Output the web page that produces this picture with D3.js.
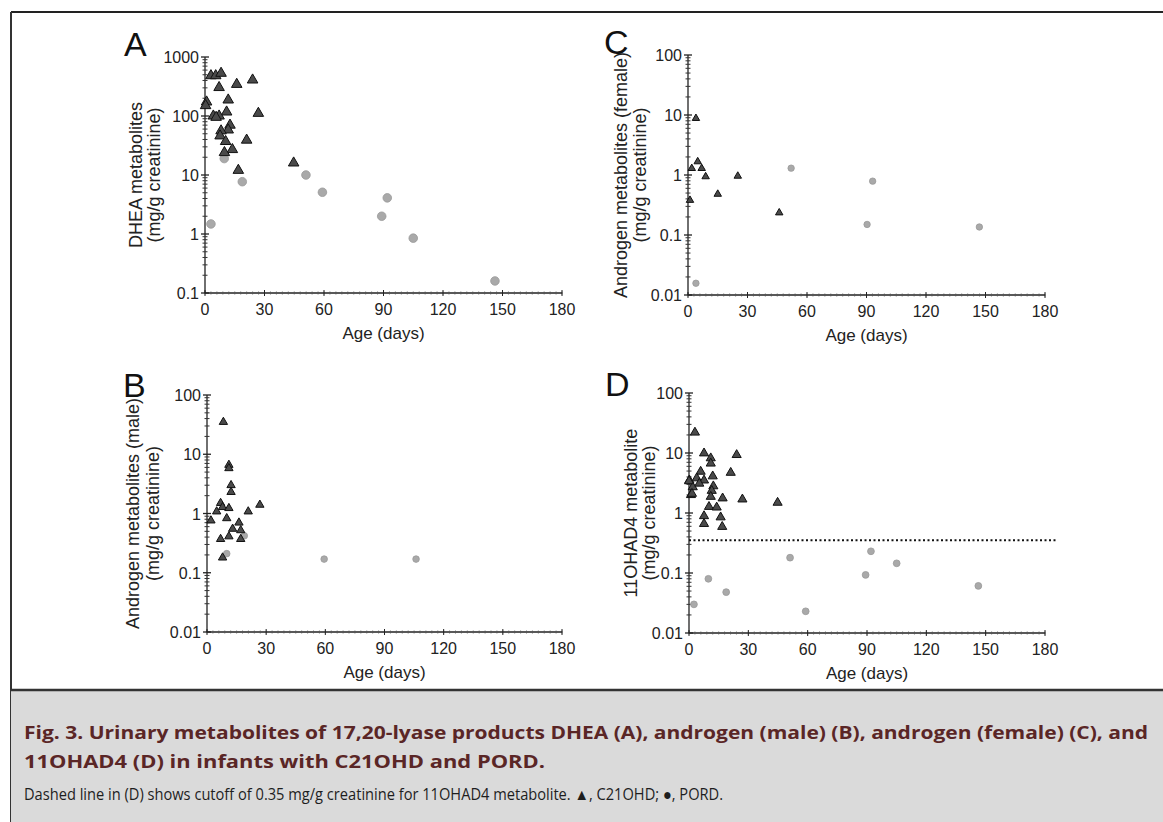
<!DOCTYPE html>
<html>
<head>
<meta charset="utf-8">
<script src="https://cdn.jsdelivr.net/npm/d3@7"></script>
<style>
  body { margin: 0; background: #fff; }
  svg { display: block; }
</style>
</head>
<body>
<div id="fig"></div>
<script>
// values: [age in days, mg/g creatinine]
const dheaC21 = [[3,482],[5.4,482],[8.1,530],[16,344],[24,408],[7.1,304],[11.7,187],[0.8,173],[0.3,150],
  [26.9,111],[10.9,117],[4.2,100],[7.1,100],[5.6,95],[12.6,70],[11.7,58],[8.1,56],[7.6,46],[10.4,37],
  [21,39],[13.8,27],[9.8,24],[16.8,12],[44.7,16]];
const dheaPord = [[9.7,19],[18.8,7.7],[50.9,10],[59.2,5.1],[89.1,2.0],[91.9,4.1],[105,0.85],[146.2,0.16],[3,1.48]];

const maleC21 = [[8.3,35],[11.1,6.6],[11.1,5.8],[12.2,3.0],[12.2,2.3],[6.9,1.5],[7.9,1.28],[11.1,1.23],
  [4.9,1.08],[20.9,1.08],[26.8,1.4],[2,0.76],[10,0.83],[16.2,0.7],[13,0.55],[17.1,0.52],[11.1,0.41],
  [6.9,0.37],[17.1,0.37],[7.9,0.18]];
const malePord = [[18.9,0.42],[10,0.21],[59.4,0.17],[106,0.17]];

const femaleC21 = [[4,8.8],[1.9,1.29],[4.9,1.67],[6.9,1.29],[8.9,0.94],[15,0.48],[25.1,0.96],[46,0.235],[1,0.38]];
const femalePord = [[52,1.3],[93.1,0.79],[90.3,0.15],[146.9,0.136],[4,0.0157]];

const ohadC21 = [[3,22],[7.6,9.9],[11,8.2],[11,6.7],[24.1,9.3],[21.1,4.7],[5.9,4.9],[0.2,3.5],[3.9,3.8],
  [7.6,3.5],[12,4.1],[1.9,2.7],[5.2,3.1],[12.3,2.8],[11.5,2.35],[1,2.0],[11,1.87],[17,1.76],[27,1.69],
  [44.8,1.49],[10.1,1.27],[14,1.24],[7.6,0.89],[16,0.85],[7.6,0.66],[16.8,0.59],[0,3.4],[1.5,2.1]];
const ohadPord = [[51.1,0.18],[92,0.23],[105,0.145],[89.3,0.093],[146.3,0.061],[9.8,0.08],[18.8,0.048],
  [2.5,0.03],[59,0.023]];

const cutoff = 0.35;
const ageTicks = [0, 30, 60, 90, 120, 150, 180];
const captionLines = [
  "Fig. 3. Urinary metabolites of 17,20-lyase products DHEA (A), androgen (male) (B), androgen (female) (C), and",
  "11OHAD4 (D) in infants with C21OHD and PORD.",
  "Dashed line in (D) shows cutoff of 0.35 mg/g creatinine for 11OHAD4 metabolite. \u25B2, C21OHD; \u25CF, PORD."
];

const width = 1163, height = 822;
const svg = d3.select("#fig").append("svg")
  .attr("width", width)
  .attr("height", height);

svg.append("rect").attr("width", width).attr("height", height).attr("fill", "#fff");

// frame
svg.append("line").attr("x1", 11).attr("x2", width).attr("y1", 12).attr("y2", 12)
  .attr("stroke", "#222").attr("stroke-width", 2);
svg.append("line").attr("x1", 11).attr("x2", 11).attr("y1", 12).attr("y2", height)
  .attr("stroke", "#333").attr("stroke-width", 2);

const font = "Liberation Sans, Arial, sans-serif";

const panels = [
  {letter: "A", c21: dheaC21, pord: dheaPord, x0: 205, x1: 562, yTop: 57, yBot: 293, ymin: 0.1, ymax: 1000,
   title: ["DHEA metabolites", "(mg/g creatinine)"], tx: [136, 154], letterPos: [124, 56], tri: 48, r: 4.3},
  {letter: "B", c21: maleC21, pord: malePord, x0: 207, x1: 562, yTop: 395, yBot: 632, ymin: 0.01, ymax: 100,
   title: ["Androgen metabolites (male)", "(mg/g creatinine)"], tx: [133, 153], letterPos: [123, 397], tri: 30, r: 3.3},
  {letter: "C", c21: femaleC21, pord: femalePord, x0: 688, x1: 1045, yTop: 55, yBot: 295, ymin: 0.01, ymax: 100,
   title: ["Androgen metabolites (female)", "(mg/g creatinine)"], tx: [621, 640], letterPos: [604, 54], tri: 24, r: 3.2},
  {letter: "D", c21: ohadC21, pord: ohadPord, x0: 689, x1: 1045, yTop: 393, yBot: 633, ymin: 0.01, ymax: 100,
   title: ["11OHAD4 metabolite", "(mg/g creatinine)"], tx: [631, 649], letterPos: [605, 396], tri: 36, r: 3.4,
   cutoff: cutoff}
];

panels.forEach(p => {
  const g = svg.append("g");
  const x = d3.scaleLinear().domain([0, 180]).range([p.x0, p.x1]);
  const y = d3.scaleLog().domain([p.ymin, p.ymax]).range([p.yBot, p.yTop]);

  // x axis: line, minor ticks, labels
  g.append("line").attr("x1", x(0)).attr("x2", x(180)).attr("y1", p.yBot).attr("y2", p.yBot)
    .attr("stroke", "#222").attr("stroke-width", 1.3);
  g.selectAll(".xminor").data(d3.range(0, 181, 3)).join("line")
    .attr("x1", d => x(d)).attr("x2", d => x(d))
    .attr("y1", p.yBot - 1.5).attr("y2", p.yBot + 1.5)
    .attr("stroke", "#555").attr("stroke-width", 0.8);
  g.selectAll(".xmajor").data(ageTicks).join("line")
    .attr("x1", d => x(d)).attr("x2", d => x(d))
    .attr("y1", p.yBot - 3).attr("y2", p.yBot + 3)
    .attr("stroke", "#222").attr("stroke-width", 1);
  g.selectAll(".xlab").data(ageTicks).join("text")
    .attr("x", d => x(d)).attr("y", p.yBot + 22)
    .attr("text-anchor", "middle")
    .style("font-family", font)
    .style("font-size", "16px").attr("fill", "#222")
    .text(d => d);
  g.append("text")
    .attr("x", (p.x0 + p.x1) / 2).attr("y", p.yBot + 46)
    .attr("text-anchor", "middle")
    .style("font-family", font)
    .style("font-size", "17px").attr("fill", "#222")
    .text("Age (days)");

  // y axis with log minor ticks
  g.append("line").attr("x1", p.x0).attr("x2", p.x0).attr("y1", p.yTop).attr("y2", p.yBot)
    .attr("stroke", "#222").attr("stroke-width", 1.3);
  const decades = y.ticks().filter(v => Math.abs(Math.log10(v) - Math.round(Math.log10(v))) < 1e-9);
  const minors = y.ticks().filter(v => decades.indexOf(v) < 0);
  g.selectAll(".yminor").data(minors).join("line")
    .attr("x1", p.x0 - 2.5).attr("x2", p.x0 + 2.5)
    .attr("y1", d => y(d)).attr("y2", d => y(d))
    .attr("stroke", "#333").attr("stroke-width", 1);
  g.selectAll(".ymajor").data(decades).join("line")
    .attr("x1", p.x0 - 4).attr("x2", p.x0 + 4)
    .attr("y1", d => y(d)).attr("y2", d => y(d))
    .attr("stroke", "#222").attr("stroke-width", 1.3);
  g.selectAll(".ylab").data(decades).join("text")
    .attr("x", p.x0 - 6).attr("y", d => y(d) + 6)
    .attr("text-anchor", "end")
    .style("font-family", font)
    .style("font-size", "16px").attr("fill", "#222")
    .text(d => d >= 1 ? d3.format("d")(d) : String(+d.toPrecision(1)));

  // y title, two lines, rotated
  const cy = (p.yTop + p.yBot) / 2;
  p.title.forEach((t, i) => {
    g.append("text")
      .attr("transform", `translate(${p.tx[i]},${cy}) rotate(-90)`)
      .attr("text-anchor", "middle")
      .attr("dy", "0.35em")
      .style("font-family", font)
      .style("font-size", "18px").attr("fill", "#222")
      .text(t);
  });

  // panel letter
  g.append("text")
    .attr("x", p.letterPos[0]).attr("y", p.letterPos[1])
    .style("font-family", font)
    .style("font-size", "34px").attr("fill", "#111")
    .text(p.letter);

  // cutoff line
  if (p.cutoff) {
    g.append("line")
      .attr("x1", p.x0).attr("x2", 1056)
      .attr("y1", y(p.cutoff)).attr("y2", y(p.cutoff))
      .attr("stroke", "#111").attr("stroke-width", 2)
      .attr("stroke-dasharray", "2,2.5");
  }

  // PORD circles
  g.selectAll(".pord").data(p.pord).join("circle")
    .attr("cx", d => x(d[0])).attr("cy", d => y(d[1]))
    .attr("r", p.r)
    .attr("fill", "#a9a9a9").attr("stroke", "#999").attr("stroke-width", 0.8);

  // C21OHD triangles
  g.selectAll(".c21").data(p.c21).join("path")
    .attr("transform", d => `translate(${x(d[0])},${y(d[1])})`)
    .attr("d", d3.symbol(d3.symbolTriangle, p.tri))
    .attr("fill", "#4a4a4a").attr("stroke", "#111").attr("stroke-width", 1);
});

// caption block
svg.append("rect").attr("x", 11).attr("y", 690).attr("width", width - 11).attr("height", height - 690)
  .attr("fill", "#dadada");
svg.append("line").attr("x1", 11).attr("x2", width).attr("y1", 690).attr("y2", 690)
  .attr("stroke", "#333").attr("stroke-width", 2.5);

const capFont = "'Open Sans', 'Noto Sans', sans-serif";
svg.append("text").attr("x", 24).attr("y", 739)
  .attr("textLength", 1124).attr("lengthAdjust", "spacingAndGlyphs")
  .style("font-family", capFont).style("font-size", "17px").style("font-weight", 700)
  .attr("fill", "#5a2626").text(captionLines[0]);
svg.append("text").attr("x", 24).attr("y", 768)
  .attr("textLength", 521).attr("lengthAdjust", "spacingAndGlyphs")
  .style("font-family", capFont).style("font-size", "17px").style("font-weight", 700)
  .attr("fill", "#5a2626").text(captionLines[1]);
svg.append("text").attr("x", 24).attr("y", 800)
  .attr("textLength", 699).attr("lengthAdjust", "spacingAndGlyphs")
  .style("font-family", capFont).style("font-size", "16px")
  .attr("fill", "#1e1e1e").text(captionLines[2]);
</script>
</body>
</html>
